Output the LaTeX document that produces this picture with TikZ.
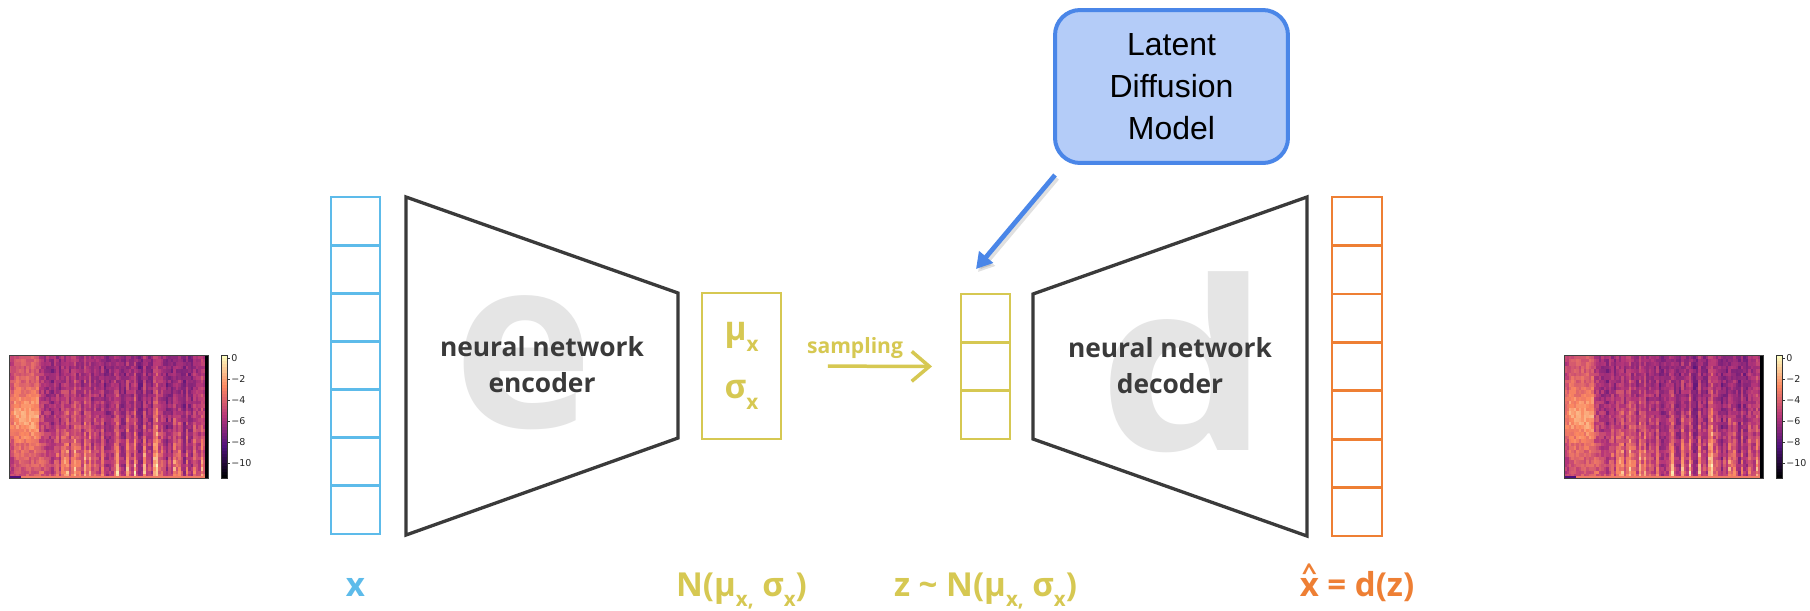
\documentclass[tikz,border=0pt]{standalone}
\usepackage{fontspec}
\usepackage{graphicx}
\setmainfont{Open Sans}
\newfontfamily\arialf{Liberation Sans}
\newfontfamily\dejavuf{DejaVu Sans}
\usetikzlibrary{arrows.meta,calc}

\definecolor{xblue}{RGB}{93,187,234}
\definecolor{yel}{RGB}{214,200,82}
\definecolor{xorange}{RGB}{238,127,52}
\definecolor{strokegray}{RGB}{58,58,58}
\definecolor{glyphgray}{RGB}{229,229,229}
\definecolor{ldmfill}{RGB}{180,204,248}
\definecolor{ldmline}{RGB}{74,134,232}
% magma colour map stops
\definecolor{mg0}{RGB}{0,0,4}
\definecolor{mg1}{RGB}{80,18,123}
\definecolor{mg2}{RGB}{182,54,121}
\definecolor{mg3}{RGB}{251,136,97}
\definecolor{mg4}{RGB}{252,253,191}

% lowered small subscript
\newcommand\lsub[1]{\raisebox{-0.32em}{\scalebox{0.62}{#1}}}
% x with a circumflex on top
\newcommand\xhat{\leavevmode\setbox0\hbox{x}%
  \rlap{\hbox to\wd0{\hss\raisebox{0.48em}{\scalebox{0.8}[0.7]{\textasciicircum}}\hss}}x}

% set colour "mg" to the magma value of #1 in [0,1]
\newcommand\magma[1]{%
  \pgfmathsetmacro\mgt{max(0,min(3.999,4*(#1)))}%
  \pgfmathtruncatemacro\mgs{\mgt}%
  \pgfmathtruncatemacro\mgp{100*(\mgt-\mgs)}%
  \pgfmathtruncatemacro\mgn{\mgs+1}%
  \edef\mgdo{\noexpand\colorlet{mg}{mg\mgn!\mgp!mg\mgs}}\mgdo}

% mel spectrogram panel, left edge at x = #1
\newcommand\spectrogram[1]{%
  \pgfmathsetseed{20231}%
  \gdef\ecprev{0.38}\gdef\skprev{0}%
  \foreach \ci in {0,...,79}{%
    \pgfmathsetmacro\ec{0.5*\ecprev+0.5*(0.28+0.22*rnd)}%
    \xdef\ecprev{\ec}%
    \pgfmathsetmacro\sk{0.3*\skprev+(rnd>0.55)*(0.06+0.26*rnd)}%
    \xdef\skprev{\sk}%
    \pgfmathsetmacro\xa{#1+2.49*\ci}%
    \foreach \ri in {0,...,34}{%
      \pgfmathsetmacro\rowt{\ri/34}%
      \ifnum\ci<12
        \pgfmathsetmacro\sv{0.6+0.2*exp(-1*(((\rowt-0.5)/0.25)^2))+0.07*rand-0.08*(\ci<2)}%
      \else\ifnum\ci<18
        \pgfmathsetmacro\sv{0.52-0.025*(\ci-12)+0.15*\rowt*\rowt+0.09*rand}%
      \else
        \pgfmathsetmacro\sv{\ec+\sk*(0.35+0.65*\rowt)*(0.75+0.25*rand)+0.22*\rowt*\rowt*(0.3+2*\sk)+0.07*rand}%
      \fi\fi
      \magma{\sv}%
      \fill[mg] (\xa,355+3.514*\ri) rectangle ++(2.6,3.6);
    }%
  }%
  \fill[mg3!85!mg2] (#1,475.5) rectangle (#1+199,478);
  \fill[mg1] (#1,475.5) rectangle (#1+12,478);
  \fill[mg0] (#1+196,355) rectangle (#1+199,478);
  \draw[black!75,line width=0.4pt] (#1,355) rectangle (#1+199,478);
}

% colour bar with tick labels, left edge at x = #1
\newcommand\colorbarat[1]{%
  \foreach \k in {0,...,40}{%
    \magma{\k/40}%
    \fill[mg] (#1,478-3*\k) rectangle (#1+6,475-3*\k+0.3);
  }%
  \draw[black!80,line width=0.3pt] (#1,355) rectangle (#1+6,478);
  \foreach \yy/\lab in {358/0,379/−2,400/−4,421/−6,442/−8,463/−10}{%
    \draw[black!80,line width=0.3pt] (#1+6,\yy) -- (#1+8.5,\yy);
    \node[anchor=west,inner sep=0pt,text=black!85,font=\dejavuf\fontsize{5.4pt}{6.5pt}\selectfont] at (#1+10,\yy) {\lab};
  }%
}

\begin{document}
\begin{tikzpicture}[x=0.02cm,y=-0.02cm,
  netstroke/.style={draw=strokegray,line width=0.066cm,line join=miter},
  cellcol/.style={draw=#1,line width=0.055cm,outer sep=0pt,inner sep=0pt,rectangle},
  divider/.style={draw=#1,line width=0.055cm},
  bigletter/.style={text=glyphgray,inner sep=0pt,anchor=base},
  nettext/.style={text=strokegray,inner sep=0pt,align=center,font=\fontsize{15pt}{20.4pt}\selectfont\bfseries},
  lbl/.style={inner sep=0pt,anchor=base,font=\fontsize{18.8pt}{24pt}\selectfont\bfseries},
  ldmbox/.style={draw=ldmline,fill=ldmfill,line width=0.08cm,rounded corners=0.5cm,
    minimum width=4.66cm,minimum height=3.06cm,align=center,
    font=\arialf\fontsize{18.2pt}{23.8pt}\selectfont},
  ldmarrow/.style={draw=ldmline,line width=0.094cm,-{Triangle[length=9pt,width=10pt]}},
  samplearrow/.style={draw=yel,line width=0.07cm,-{Straight Barb[length=10pt,width=17pt]}},
]
\fill[white] (0,0) rectangle (1810,610);
\useasboundingbox (0,0) rectangle (1810,610);

% input and output spectrograms
\spectrogram{9}
\colorbarat{221}
\spectrogram{1564}
\colorbarat{1776}

% input vector x
\node[cellcol=xblue,minimum width=0.98cm,minimum height=6.74cm] (xin) at (355.5,365.5) {};
\foreach \i in {1,...,6}
  \draw[divider=xblue] ($(xin.north west)!\i/7!(xin.south west)$) -- ($(xin.north east)!\i/7!(xin.south east)$);

% encoder
\node[bigletter,xscale=1.0,font=\fontsize{135pt}{140pt}\selectfont\bfseries] (eglyph) at (524,427) {e};
\draw[netstroke] (406,197) -- (678,293) -- (678,438) -- (406,535) -- cycle;
\node[nettext] (enc) at (542,365) {neural network\\encoder};

% distribution parameters
\node[cellcol=yel,minimum width=1.58cm,minimum height=2.92cm,align=center,text=yel,
  font=\fontsize{19pt}{33pt}\selectfont\bfseries] (mu) at (741.5,366) {μ\lsub{x}\\σ\lsub{x}};

% latent vector z
\node[cellcol=yel,minimum width=0.98cm,minimum height=2.9cm] (zb) at (985.5,366.5) {};
\foreach \i in {1,2}
  \draw[divider=yel] ($(zb.north west)!\i/3!(zb.south west)$) -- ($(zb.north east)!\i/3!(zb.south east)$);

% sampling step
\node[text=yel,inner sep=0pt,font=\fontsize{12pt}{14pt}\selectfont\bfseries] (samp) at (855,348) {sampling};
\draw[samplearrow,shorten <=0.94cm,shorten >=0.58cm] (mu.east) -- (zb.west);

% decoder
\node[bigletter,xscale=1.15,font=\fontsize{134pt}{140pt}\selectfont\bfseries] (dglyph) at (1184,450) {d};
\draw[netstroke] (1033,294) -- (1307,197) -- (1307,536) -- (1033,439) -- cycle;
\node[nettext] (dec) at (1170,366) {neural network\\decoder};

% reconstruction
\node[cellcol=xorange,minimum width=1.0cm,minimum height=6.78cm] (xout) at (1357,366.5) {};
\foreach \i in {1,...,6}
  \draw[divider=xorange] ($(xout.north west)!\i/7!(xout.south west)$) -- ($(xout.north east)!\i/7!(xout.south east)$);

% latent diffusion model callout
\node[ldmbox] (ldm) at (1171.5,86.5) {Latent\\Diffusion\\Model};
\coordinate (ldmfoot) at (1055,175);
\coordinate (zaim) at (976,269);
\draw[black,opacity=0.12,line width=0.1cm,-{Triangle[length=9pt,width=10pt]}]
  ([shift={(2,3)}]ldmfoot) -- ([shift={(2,3)}]zaim);
\draw[ldmarrow] (ldmfoot) -- (zaim);

% labels
\node[lbl,text=xblue] (xlab) at (355.5,596) {x};
\node[lbl,text=yel] (nlab) at (741.5,596) {N(μ\lsub{x,} σ\lsub{x})};
\node[lbl,text=yel] (zlab) at (985.5,596) {z \textasciitilde{} N(μ\lsub{x,} σ\lsub{x})};
\node[lbl,text=xorange] (xhlab) at (1357,596) {\xhat{} = d(z)};
\end{tikzpicture}
\end{document}
